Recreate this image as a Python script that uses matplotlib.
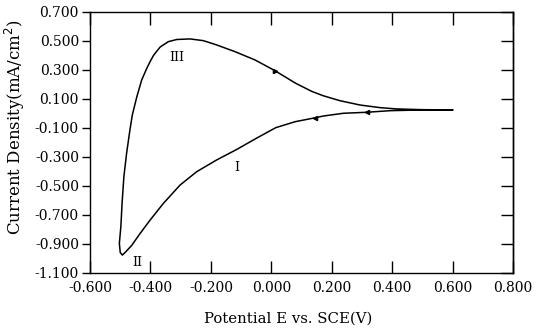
import matplotlib
matplotlib.use("Agg")
import matplotlib.pyplot as plt
from matplotlib.ticker import FormatStrFormatter

# Forward (cathodic) sweep, curve I -> II
E_fwd = [0.60, 0.50, 0.393, 0.316, 0.238, 0.172, 0.145, 0.079, 0.015, -0.05,
         -0.114, -0.181, -0.247, -0.302, -0.357, -0.401, -0.435, -0.462,
         -0.482, -0.493]
I_fwd = [0.024, 0.024, 0.019, 0.008, 0.001, -0.018, -0.03, -0.057, -0.098,
         -0.172, -0.248, -0.321, -0.402, -0.494, -0.62, -0.735, -0.83, -0.91,
         -0.955, -0.977]

# Reverse (anodic) sweep, curve II -> III
E_rev = [-0.493, -0.500, -0.503, -0.498, -0.494, -0.488, -0.479, -0.468,
         -0.460, -0.445, -0.429, -0.412, -0.400, -0.390, -0.368, -0.341,
         -0.313, -0.269, -0.225, -0.183, -0.120, -0.054, 0.012, 0.079, 0.134,
         0.172, 0.227, 0.294, 0.360, 0.415, 0.50, 0.60]
I_rev = [-0.977, -0.96, -0.896, -0.781, -0.62, -0.436, -0.275, -0.114,
         -0.01, 0.116, 0.231, 0.312, 0.362, 0.400, 0.458, 0.495, 0.510,
         0.514, 0.502, 0.474, 0.426, 0.369, 0.295, 0.210, 0.152, 0.122,
         0.088, 0.058, 0.040, 0.031, 0.026, 0.024]

# Arrow markers along the sweeps
arrow_fwd_E = [0.145, 0.316]
arrow_fwd_I = [-0.03, 0.008]
arrow_rev_E = [0.012]
arrow_rev_I = [0.295]

# Curve labels
curve_labels = ["III", "I", "II"]
label_E = [-0.312, -0.113, -0.445]
label_I = [0.385, -0.376, -1.03]

x_ticks = [-0.6, -0.4, -0.2, 0.0, 0.2, 0.4, 0.6, 0.8]
y_ticks = [0.7, 0.5, 0.3, 0.1, -0.1, -0.3, -0.5, -0.7, -0.9, -1.1]

plt.rcParams['font.family'] = ['DejaVu Serif']
plt.rcParams['axes.unicode_minus'] = False

fig = plt.figure(figsize=(5.36, 3.32), dpi=100)
ax = fig.add_axes([0.168, 0.178, 0.789, 0.786])

ax.plot(E_fwd + E_rev, I_fwd + I_rev, color='black', lw=1.1,
        solid_joinstyle='round')
ax.plot(arrow_fwd_E, arrow_fwd_I, linestyle='none', marker='<', ms=3, color='black')
ax.plot(arrow_rev_E, arrow_rev_I, linestyle='none', marker='>', ms=3, color='black')

for t, xe, yi in zip(curve_labels, label_E, label_I):
    ax.text(xe, yi, t, fontsize=9, ha='center', va='center')

ax.set_xlim(-0.6, 0.8)
ax.set_ylim(-1.1, 0.7)
ax.set_xticks(x_ticks)
ax.set_yticks(y_ticks)
ax.xaxis.set_major_formatter(FormatStrFormatter('%.3f'))
ax.yaxis.set_major_formatter(FormatStrFormatter('%.3f'))

ax.tick_params(axis='x', direction='in', top=True, bottom=True, length=9,
               width=1, labelsize=10, pad=6)
ax.tick_params(axis='y', direction='out', left=True, right=False, length=6,
               width=1, labelsize=10, pad=2)
sec = ax.secondary_yaxis('right')
sec.set_yticks(y_ticks)
sec.tick_params(direction='in', length=9, width=1, labelright=False)

for s in ax.spines.values():
    s.set_linewidth(1.0)
sec.spines['right'].set_linewidth(1.0)

ax.set_xlabel('Potential E vs. SCE(V)', fontsize=10.7)
ax.set_ylabel('Current Density(mA/cm$^2$)', fontsize=12)
ax.xaxis.set_label_coords(0.468, -0.15)
ax.yaxis.set_label_coords(-0.15, 0.56)

fig.savefig('out.png', dpi=100)
